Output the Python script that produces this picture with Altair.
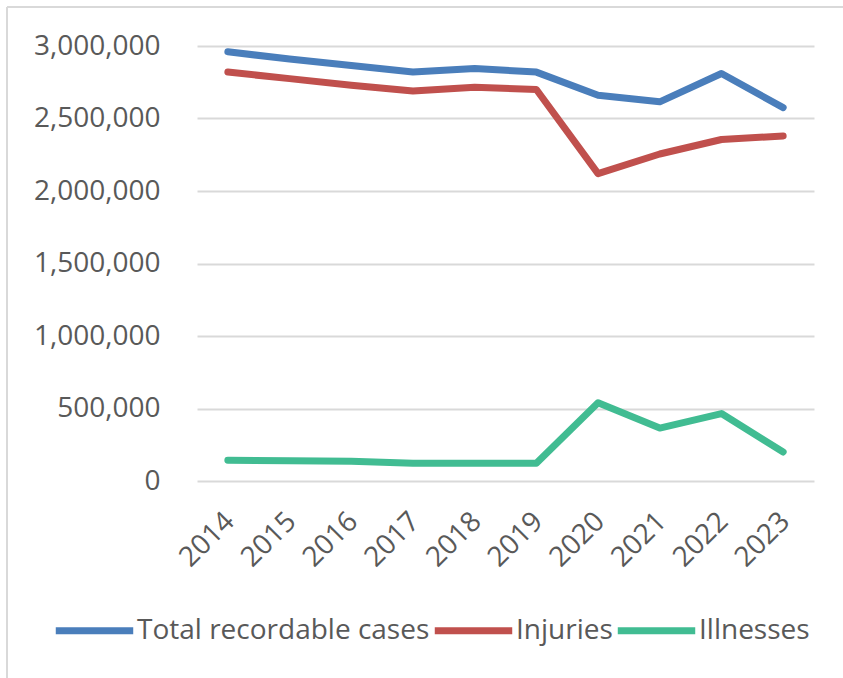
import altair as alt
import pandas as pd

# Recordable workplace cases by year
years = ["2014", "2015", "2016", "2017", "2018", "2019", "2020", "2021", "2022", "2023"]
total_cases = [2960000, 2910000, 2865000, 2820000, 2845000, 2820000, 2660000, 2615000, 2810000, 2575000]
injuries = [2820000, 2775000, 2730000, 2690000, 2715000, 2700000, 2120000, 2255000, 2355000, 2380000]
illnesses = [143000, 140000, 136000, 122000, 122000, 122000, 540000, 365000, 465000, 200000]

series_names = ["Total recordable cases", "Injuries", "Illnesses"]
series_colors = ["#4A7EBB", "#C0504D", "#41BC92"]
y_ticks = [0, 500000, 1000000, 1500000, 2000000, 2500000, 3000000]

rows = []
for name, values in zip(series_names, [total_cases, injuries, illnesses]):
    for yr, v in zip(years, values):
        rows.append({"year": yr, "cases": v, "series": name})
df = pd.DataFrame(rows)

FONT = "Open Sans"
TEXT = "#595959"
GRID = "#D9D9D9"

lines = alt.Chart(df).mark_line(strokeWidth=7, strokeCap="round", strokeJoin="round").encode(
    x=alt.X("year:O", sort=years, title=None,
            scale=alt.Scale(type="point", padding=0.5),
            axis=alt.Axis(labelAngle=-45, labelPadding=26, labelOffset=-8,
                          ticks=False, domain=False, grid=False,
                          labelFont=FONT, labelFontSize=28, labelColor=TEXT)),
    y=alt.Y("cases:Q", title=None,
            scale=alt.Scale(domain=[0, 3000000], nice=False),
            axis=alt.Axis(values=y_ticks, format=",.0f", ticks=False, domain=False,
                          gridColor=GRID, gridWidth=2, labelPadding=37,
                          labelFont=FONT, labelFontSize=28, labelColor=TEXT)),
    color=alt.Color("series:N", sort=series_names,
                    scale=alt.Scale(domain=series_names, range=series_colors),
                    legend=alt.Legend(title=None, orient="none", direction="horizontal",
                                      legendX=-145, legendY=542,
                                      symbolType="stroke", symbolSize=6000, symbolStrokeWidth=7,
                                      labelFont=FONT, labelFontSize=28, labelColor=TEXT,
                                      labelLimit=0, labelOffset=0, columnPadding=-10)),
)

# Light frame along the top and left edges
frame_src = pd.DataFrame({"k": [0]})
frame_top = alt.Chart(frame_src).mark_rule(color=GRID, strokeWidth=2).encode(
    x=alt.value(-190), x2=alt.value(646), y=alt.value(-39))
frame_left = alt.Chart(frame_src).mark_rule(color=GRID, strokeWidth=2).encode(
    x=alt.value(-190), y=alt.value(-39), y2=alt.value(632))

chart = alt.layer(frame_top, frame_left, lines).properties(
    width=617, height=435,
    autosize=alt.AutoSizeParams(type="none"),
    padding={"left": 197, "top": 46, "right": 29, "bottom": 197},
    background="white",
).configure_view(stroke=None)

chart.save("out.html", embed_options={"renderer": "svg", "actions": False})
